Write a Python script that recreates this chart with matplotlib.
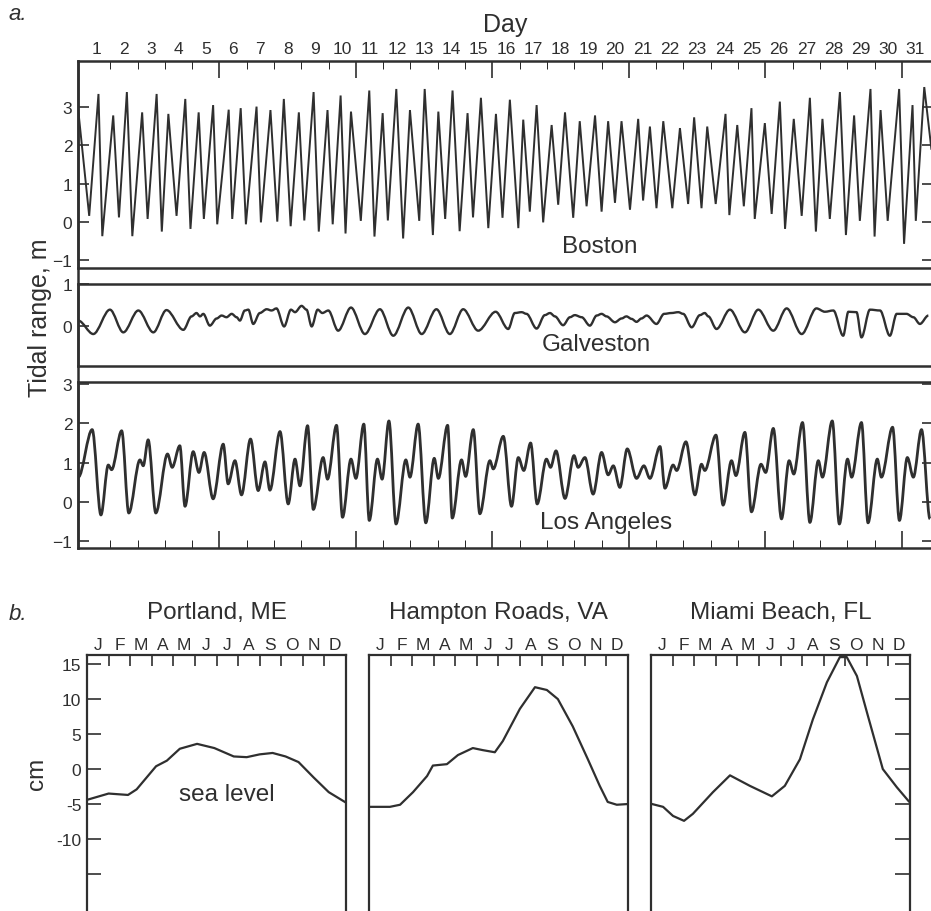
import matplotlib
matplotlib.use('Agg')
import matplotlib.pyplot as plt
from matplotlib.path import Path
from matplotlib.patches import PathPatch
from matplotlib.lines import Line2D

plt.rcParams['font.family'] = ['Liberation Sans', 'DejaVu Sans']

# ---- panel a: tide records, time in days from start of month ----
boston_t = [-0.17, 0.23, 0.57, 0.71, 1.11, 1.32, 1.61, 1.81, 2.17, 2.37,
            2.70, 2.89, 3.13, 3.43, 3.75, 3.94, 4.24, 4.43, 4.77, 4.92,
            5.34, 5.47, 5.78, 5.97, 6.36, 6.52, 6.87, 7.12, 7.36, 7.61,
            7.91, 8.11, 8.45, 8.64, 8.96, 9.15, 9.44, 9.62, 9.82, 10.18,
            10.49, 10.68, 10.98, 11.17, 11.48, 11.73, 11.98, 12.32, 12.52, 12.82,
            13.02, 13.27, 13.54, 13.80, 14.09, 14.29, 14.58, 14.85, 15.13, 15.37,
            15.64, 15.95, 16.13, 16.37, 16.62, 16.86, 17.17, 17.41, 17.66, 17.96,
            18.20, 18.45, 18.76, 19.00, 19.24, 19.49, 19.73, 20.04, 20.34, 20.52,
            20.77, 21.01, 21.26, 21.59, 21.87, 22.17, 22.39, 22.66, 22.87, 23.18,
            23.54, 23.68, 23.97, 24.21, 24.49, 24.61, 24.98, 25.23, 25.53, 25.72,
            26.04, 26.33, 26.63, 26.85, 27.09, 27.36, 27.73, 27.95, 28.25, 28.46,
            28.85, 29.00, 29.22, 29.48, 29.90, 30.08, 30.39, 30.51, 30.82, 31.08]
boston_m = [2.91, 0.16, 3.34, -0.37, 2.78, 0.12, 3.39, -0.37, 2.86, 0.08,
            3.34, -0.25, 2.82, 0.16, 3.21, -0.18, 2.86, 0.08, 3.05, -0.06,
            2.93, 0.08, 2.97, -0.06, 3.01, -0.01, 2.92, 0.01, 3.21, -0.11,
            2.86, 0.04, 3.39, -0.25, 2.92, -0.06, 3.30, -0.30, 2.88, 0.03,
            3.43, -0.38, 2.84, 0.04, 3.47, -0.43, 2.92, 0.03, 3.47, -0.34,
            2.88, 0.08, 3.43, -0.24, 2.84, 0.12, 3.24, -0.16, 2.82, 0.11,
            3.19, -0.16, 2.67, 0.27, 3.05, -0.01, 2.53, 0.45, 2.86, 0.11,
            2.63, 0.41, 2.78, 0.27, 2.63, 0.50, 2.63, 0.32, 2.69, 0.56,
            2.49, 0.36, 2.63, 0.36, 2.45, 0.47, 2.73, 0.36, 2.49, 0.47,
            2.82, 0.18, 2.53, 0.41, 2.97, 0.08, 2.58, 0.21, 3.14, -0.18,
            2.69, 0.16, 3.24, -0.25, 2.69, 0.08, 3.39, -0.34, 2.78, 0.03,
            3.47, -0.38, 2.92, 0.03, 3.47, -0.57, 3.05, 0.03, 3.52, 1.91]

galv_t = [-0.17, 0.38, 0.99, 1.48, 2.03, 2.58, 3.06, 3.68, 3.98, 4.16,
          4.29, 4.41, 4.65, 4.90, 5.08, 5.26, 5.45, 5.63, 5.75, 5.93,
          6.06, 6.24, 6.48, 6.73, 6.91, 7.09, 7.37, 7.62, 7.77, 8.01,
          8.19, 8.38, 8.60, 8.77, 8.99, 9.35, 9.82, 10.33, 10.88, 11.37,
          11.92, 12.41, 12.95, 13.44, 13.93, 14.48, 15.12, 15.58, 15.82, 16.07,
          16.25, 16.62, 16.92, 17.11, 17.29, 17.59, 17.84, 18.02, 18.27, 18.57,
          18.82, 19.00, 19.18, 19.49, 19.73, 19.91, 20.10, 20.28, 20.46, 20.65,
          21.01, 21.29, 21.56, 21.81, 21.99, 22.30, 22.60, 22.78, 22.91, 23.21,
          23.70, 24.25, 24.74, 25.29, 25.78, 26.33, 26.87, 27.18, 27.49, 27.85,
          28.04, 28.34, 28.52, 28.83, 29.20, 29.56, 29.81, 30.17, 30.42, 30.66,
          30.97]
galv_m = [0.13, -0.19, 0.39, -0.15, 0.37, -0.15, 0.38, -0.09, 0.23, 0.31,
          0.23, 0.29, 0.01, 0.18, 0.25, 0.21, 0.29, 0.21, 0.13, 0.37,
          0.39, 0.05, 0.31, 0.40, 0.37, 0.42, -0.01, 0.39, 0.33, 0.48,
          0.39, -0.01, 0.39, 0.31, 0.37, -0.11, 0.44, -0.19, 0.40, -0.23,
          0.44, -0.19, 0.40, -0.19, 0.40, -0.11, 0.34, -0.07, 0.31, 0.33,
          0.29, -0.06, 0.26, 0.31, 0.23, 0.02, 0.21, 0.26, 0.21, 0.01,
          0.25, 0.29, 0.23, 0.09, 0.18, 0.23, 0.17, 0.10, 0.18, 0.25,
          0.05, 0.29, 0.31, 0.33, 0.29, -0.03, 0.26, 0.31, 0.23, -0.07,
          0.39, -0.15, 0.39, -0.11, 0.42, -0.19, 0.42, 0.34, 0.37, -0.23,
          0.34, 0.33, -0.27, 0.39, 0.37, -0.23, 0.29, 0.29, 0.21, 0.05,
          0.25]

la_t = [-0.17, 0.34, 0.66, 0.93, 1.05, 1.42, 1.68, 2.09, 2.21, 2.39,
        2.67, 3.10, 3.27, 3.55, 3.74, 4.04, 4.25, 4.44, 4.77, 5.14,
        5.32, 5.57, 5.81, 6.14, 6.42, 6.67, 6.85, 7.22, 7.52, 7.77,
        7.95, 8.23, 8.44, 8.80, 8.96, 9.29, 9.51, 9.82, 10.00, 10.29,
        10.49, 10.79, 10.96, 11.21, 11.47, 11.83, 11.98, 12.28, 12.56, 12.87,
        13.02, 13.36, 13.53, 13.87, 14.02, 14.30, 14.54, 14.91, 15.03, 15.40,
        15.70, 15.95, 16.15, 16.40, 16.64, 16.98, 17.13, 17.33, 17.66, 17.99,
        18.14, 18.39, 18.69, 19.00, 19.24, 19.43, 19.67, 19.94, 20.28, 20.55,
        20.77, 21.14, 21.32, 21.62, 21.75, 22.09, 22.42, 22.66, 22.78, 23.19,
        23.45, 23.76, 23.92, 24.25, 24.49, 24.84, 25.01, 25.29, 25.59, 25.87,
        26.04, 26.36, 26.63, 26.94, 27.09, 27.45, 27.71, 28.01, 28.16, 28.52,
        28.76, 29.10, 29.25, 29.66, 29.91, 30.20, 30.42, 30.72, 31.03]
la_m = [0.63, 1.84, -0.33, 0.94, 0.82, 1.81, -0.28, 1.07, 0.92, 1.58,
        -0.28, 1.22, 0.88, 1.43, -0.11, 1.28, 0.75, 1.26, 0.08, 1.47,
        0.46, 1.05, 0.18, 1.60, 0.29, 1.02, 0.30, 1.79, -0.05, 1.09,
        0.41, 1.94, -0.19, 1.13, 0.58, 1.95, -0.39, 1.09, 0.60, 1.98,
        -0.47, 1.09, 0.58, 2.06, -0.56, 1.07, 0.63, 1.98, -0.53, 1.11,
        0.60, 1.95, -0.41, 1.07, 0.65, 1.84, -0.30, 1.05, 0.84, 1.67,
        -0.11, 1.13, 0.80, 1.50, -0.05, 1.09, 0.88, 1.30, 0.09, 1.18,
        0.88, 1.13, 0.20, 1.26, 0.69, 0.92, 0.37, 1.35, 0.60, 0.92,
        0.60, 1.41, 0.35, 0.94, 0.80, 1.53, 0.18, 0.96, 0.80, 1.70,
        -0.08, 1.05, 0.67, 1.77, -0.25, 0.96, 0.75, 1.87, -0.43, 1.05,
        0.71, 2.02, -0.52, 1.05, 0.63, 2.06, -0.56, 1.09, 0.63, 2.02,
        -0.53, 1.09, 0.63, 1.90, -0.47, 1.13, 0.63, 1.84, -0.43]

days = list(range(1, 32))

# ---- panel b: seasonal sea level, time in months from 1 Jan ----
months = ['J', 'F', 'M', 'A', 'M', 'J', 'J', 'A', 'S', 'O', 'N', 'D']
portland_t = [0.0, 1.0, 1.9, 2.3, 3.2, 3.7, 4.3, 5.1, 5.9, 6.8, 7.4, 8.0, 8.6, 9.2, 9.8, 10.5, 11.2, 12.0]
portland_cm = [-4.4, -3.5, -3.7, -2.9, 0.4, 1.2, 2.9, 3.6, 3.0, 1.8, 1.7, 2.1, 2.3, 1.8, 1.0, -1.2, -3.3, -4.8]
hampton_t = [0.05, 0.97, 1.44, 2.04, 2.69, 2.96, 3.61, 4.12, 4.81, 5.28, 5.83, 6.20, 6.99,
             7.69, 8.24, 8.75, 9.44, 10.14, 10.69, 11.06, 11.48, 11.99]
hampton_cm = [-5.4, -5.4, -5.1, -3.3, -1.0, 0.5, 0.7, 2.0, 3.0, 2.7, 2.4, 4.0, 8.6,
              11.7, 11.3, 10.0, 6.1, 1.4, -2.4, -4.7, -5.1, -5.0]
miami_t = [0.05, 0.56, 1.02, 1.53, 1.94, 2.87, 3.66, 4.58, 5.60, 6.20, 6.90, 7.50, 8.15,
           8.75, 9.07, 9.54, 10.05, 10.74, 11.39, 11.94]
miami_cm = [-5.0, -5.4, -6.7, -7.4, -6.4, -3.3, -0.9, -2.4, -3.9, -2.4, 1.4, 7.1, 12.4,
            16.0, 16.0, 13.3, 7.6, 0.0, -2.6, -4.6]
cm_ticks = [15, 10, 5, 0, -5, -10, -15]
cm_labels = ['15', '10', '5', '0', '-5', '-10', '']

ink = '#2f2f2f'
W, H = 931, 912
fig = plt.figure(figsize=(W / 100, H / 100), dpi=100)


def box(l, t, r, b):
    return fig.add_axes([l / W, 1 - b / H, (r - l) / W, (b - t) / H])


def smooth(ax, t, v, lw):
    # cubic segments with flat tangents at each read point
    verts = [(t[0], v[0])]
    codes = [Path.MOVETO]
    for i in range(1, len(t)):
        d = (t[i] - t[i - 1]) / 3
        verts += [(t[i - 1] + d, v[i - 1]), (t[i] - d, v[i]), (t[i], v[i])]
        codes += [Path.CURVE4] * 3
    ax.add_patch(PathPatch(Path(verts, codes), fill=False, ec=ink, lw=lw, joinstyle='round'))


def frame(ax, lw=1.8):
    for s in ax.spines.values():
        s.set_linewidth(lw)
        s.set_color(ink)
    ax.tick_params(colors=ink, labelcolor=ink, labelsize=12.5, width=1.2)


ax_b = box(78, 62, 933, 269)
ax_g = box(78, 285, 933, 367)
ax_l = box(78, 383, 933, 549)

for ax in (ax_b, ax_g, ax_l):
    frame(ax)
    ax.set_xlim(-0.18, 31.14)
    ax.set_xticks([5, 10, 15, 20, 25, 30])
    ax.set_xticks([d for d in range(1, 31) if d % 5], minor=True)
    ax.tick_params(axis='x', which='both', bottom=False, top=False,
                   labelbottom=False, labeltop=False, direction='in')
    ax.tick_params(axis='y', direction='in', length=8, pad=4)
    ax.tick_params(axis='y', which='minor', left=False, right=False)

# Boston
ax_b.plot(boston_t, boston_m, color=ink, lw=1.4, solid_joinstyle='miter')
ax_b.set_ylim(-1.2, 4.2)
ax_b.set_yticks([-1, 0, 1, 2, 3])
ax_b.tick_params(axis='y', right=True, length=8)
ax_b.tick_params(axis='x', which='major', top=True, length=12)
ax_b.tick_params(axis='x', which='minor', top=True, length=6)
for d in days:
    ax_b.text(d - 0.5, 1.058, str(d), transform=ax_b.get_xaxis_transform(),
              ha='center', va='center', fontsize=12.5, color=ink)
ax_b.text(18.94, -0.63, 'Boston', ha='center', va='center', fontsize=17.5, color=ink)

# Galveston
smooth(ax_g, galv_t, galv_m, 1.7)
ax_g.set_ylim(-0.95, 1.0)
ax_g.set_yticks([0, 1])
ax_g.text(18.8, -0.43, 'Galveston', ha='center', va='center', fontsize=17.5, color=ink)

# Los Angeles
smooth(ax_l, la_t, la_m, 2.0)
ax_l.set_ylim(-1.17, 3.05)
ax_l.set_yticks([-1, 0, 1, 2, 3])
ax_l.tick_params(axis='y', right=True, length=8)
ax_l.tick_params(axis='x', which='major', bottom=True, length=12)
ax_l.tick_params(axis='x', which='minor', bottom=True, length=6)
ax_l.text(19.16, -0.51, 'Los Angeles', ha='center', va='center', fontsize=17.5, color=ink)

# continuous left border of panel a
fig.add_artist(Line2D([78 / W, 78 / W], [1 - 62 / H, 1 - 549 / H], color=ink, lw=1.8))

fig.text(18 / W, 1 - 14 / H, 'a.', fontsize=16, style='italic', color=ink, ha='center', va='center')
fig.text(505 / W, 1 - 25 / H, 'Day', fontsize=18, color=ink, ha='center', va='center')
fig.text(40 / W, 1 - 318 / H, 'Tidal range, m', fontsize=18, color=ink, rotation=90,
         ha='center', va='center')

# ---- panel b ----
ax_p = box(87, 656, 346, 917)
ax_h = box(369, 656, 628, 917)
ax_m = box(651, 656, 910, 917)

series = [(ax_p, portland_t, portland_cm, 'Portland, ME'),
          (ax_h, hampton_t, hampton_cm, 'Hampton Roads, VA'),
          (ax_m, miami_t, miami_cm, 'Miami Beach, FL')]
for ax, t, v, name in series:
    frame(ax, 1.6)
    ax.plot(t, v, color=ink, lw=1.6)
    ax.set_xlim(0, 12)
    ax.set_ylim(-21, 16.3)
    ax.set_xticks(range(1, 12))
    ax.tick_params(axis='x', bottom=False, top=True, labelbottom=False,
                   direction='in', length=8)
    for i, m in enumerate(months):
        ax.text(i + 0.5, 1.042, m, transform=ax.get_xaxis_transform(),
                ha='center', va='center', fontsize=12.5, color=ink)
    ax.text(0.5, 1.165, name, transform=ax.transAxes, ha='center', va='center',
            fontsize=17.5, color=ink)
    ax.set_yticks(cm_ticks)
    ax.tick_params(axis='y', left=False, labelleft=False, direction='in', length=10)

ax_p.tick_params(axis='y', left=True, labelleft=True, pad=4)
ax_p.set_yticklabels(cm_labels)
ax_m.tick_params(axis='y', right=True, length=11)
ax_p.text(6.48, -3.6, 'sea level', ha='center', va='center', fontsize=17.5, color=ink)

fig.text(18 / W, 1 - 614 / H, 'b.', fontsize=16, style='italic', color=ink, ha='center', va='center')
fig.text(37 / W, 1 - 774 / H, 'cm', fontsize=17.5, color=ink, rotation=90, ha='center', va='center')

fig.savefig('out.png', dpi=100, facecolor='white')
